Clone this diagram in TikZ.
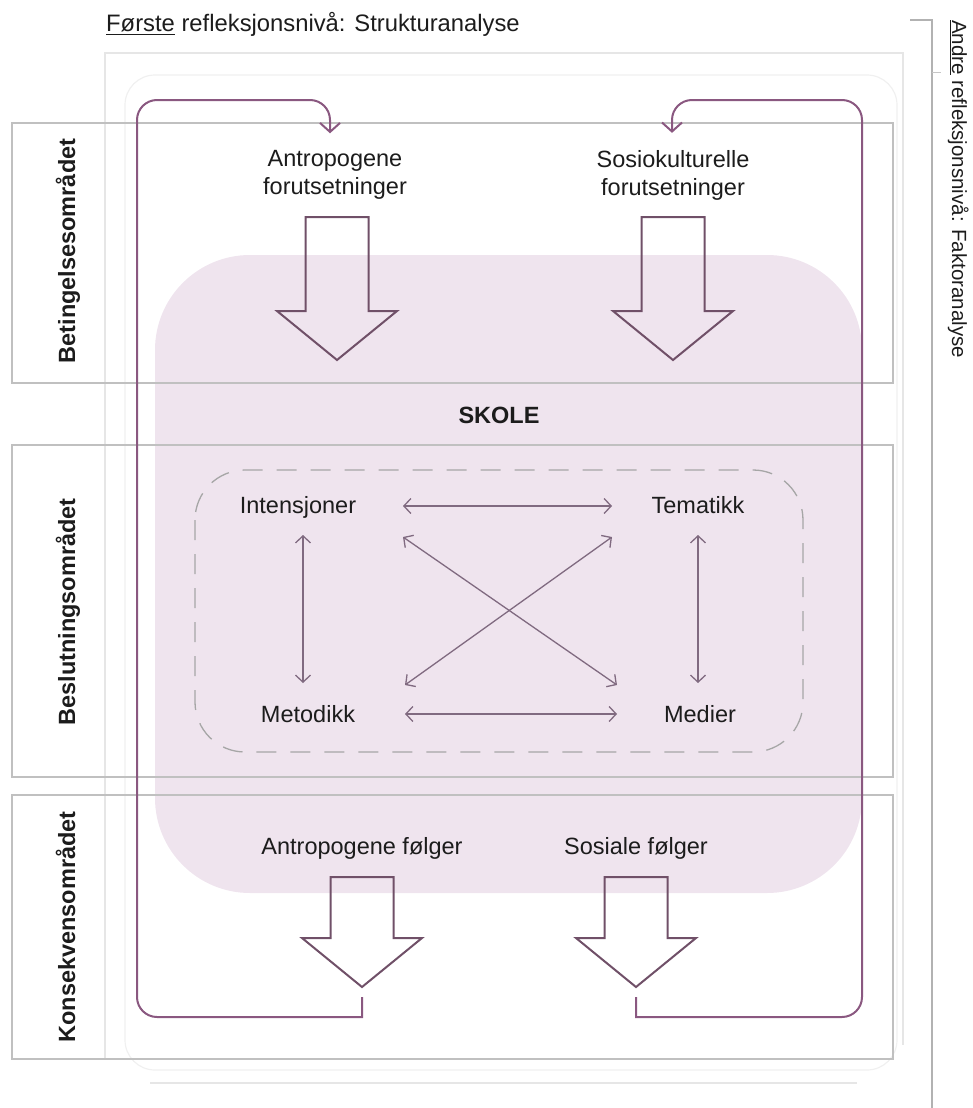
\documentclass[tikz,border=0pt]{standalone}
\usepackage{fontspec}
\setmainfont{Liberation Sans}
\usetikzlibrary{arrows.meta,calc}
\definecolor{pinkbg}{RGB}{239,228,238}
\definecolor{loopc}{RGB}{138,88,128}
\definecolor{blockc}{RGB}{112,80,104}
\definecolor{thinc}{RGB}{128,106,128}
\definecolor{boxc}{RGB}{192,192,192}
\definecolor{faintc}{RGB}{230,230,230}
\definecolor{txt}{RGB}{28,28,28}
\begin{document}
\begin{tikzpicture}[x=1pt,y=-1pt,
  lbl/.style={font=\fontsize{23.5}{28}\selectfont, text=txt, inner sep=0pt},
  blbl/.style={lbl, font=\fontsize{23.5}{28}\selectfont\bfseries},
  secbox/.style={draw=boxc, line width=1.4pt},
  faint/.style={draw=faintc, line width=1.2pt},
  loopline/.style={draw=loopc, line width=2pt, -{Straight Barb[length=9pt,width=20pt]}},
  blockstroke/.style={draw=blockc, line width=2pt, line join=miter},
  thinarrow/.style={draw=thinc, line width=1.3pt, {Straight Barb[length=7pt,width=15pt]}-{Straight Barb[length=7pt,width=15pt]}},
  dashbox/.style={draw=gray!70, line width=1.3pt, dash pattern=on 20pt off 14pt, rounded corners=50pt},
  pics/blockarr/.style 2 args={code={
    \draw[blockstroke] (-31.5,0) -- (31.5,0) -- (31.5,#1) -- (60,#1) -- (0,#2) -- (-60,#1) -- (-31.5,#1) -- cycle;
    \coordinate (-tip) at (0,#2);
  }}
]
\useasboundingbox (0,0) rectangle (973,1108);

% pink school area
\fill[pinkbg, rounded corners=95pt] (155,255) rectangle (862,893);

% faint outer frames
\draw[faint] (105,1059) -- (105,53) -- (903,53) -- (903,1045);
\draw[faint] (150,1083) -- (857,1083);
\draw[draw=faintc!60, line width=1.2pt, rounded corners=30pt] (125,75) rectangle (897,1070);

% section boxes
\draw[secbox] (12,123) rectangle (893,383);
\draw[secbox] (12,445) rectangle (893,777);
\draw[secbox] (12,795) rectangle (893,1059);

% section labels
\node[blbl, rotate=90, anchor=base] (sec1) at (75,251) {Betingelsesområdet};
\node[blbl, rotate=90, anchor=base] (sec2) at (75,612) {Beslutningsområdet};
\node[blbl, rotate=90, anchor=base] (sec3) at (75,927) {Konsekvensområdet};

% title and right label
\node[lbl, font=\fontsize{23.8}{28}\selectfont, anchor=base west] (title) at (106,32) {\underline{Første} refleksjonsnivå: Strukturanalyse};
\draw[draw=gray!60, line width=1.2pt] (910,20) -- (932,20) -- (932,1108);
\draw[draw=gray!45, line width=1pt] (932,73) -- (941,73);
\node[lbl, font=\fontsize{20.5}{25}\selectfont, rotate=-90, anchor=base west] (andre) at (952,20) {\underline{Andre} refleksjonsnivå: Faktoranalyse};

% texts
\node[lbl, align=center] (A1) at (335,175) {Antropogene\\forutsetninger};
\node[lbl, align=center] (S1) at (673,175) {Sosiokulturelle\\forutsetninger};
\node[blbl, anchor=base] (skole) at (499,423) {SKOLE};
\node[lbl, anchor=base] (I) at (298,513) {Intensjoner};
\node[lbl, anchor=base] (T) at (698,513) {Tematikk};
\node[lbl, anchor=base] (M) at (308,722) {Metodikk};
\node[lbl, anchor=base] (Me) at (700,722) {Medier};
\node[lbl, anchor=base] (AF) at (362,854) {Antropogene følger};
\node[lbl, anchor=base] (SF) at (636,854) {Sosiale følger};

% dashed decision area
\draw[dashbox] (195,470) rectangle (803,752);

% thin relation arrows
\draw[thinarrow] ($(I.base)+(105,-7)$) -- ($(T.base)+(-86,-7)$);
\draw[thinarrow] ($(M.base)+(97,-8)$) -- ($(Me.base)+(-83,-8)$);
\draw[thinarrow] ($(I.base)+(5,22)$) -- ($(M.base)+(-5,-39)$);
\draw[thinarrow] ($(T.base)+(0,22)$) -- ($(Me.base)+(-2,-39)$);
\draw[thinarrow] ($(I.base)+(105,24)$) -- ($(Me.base)+(-83,-37)$);
\draw[thinarrow] ($(M.base)+(97,-37)$) -- ($(T.base)+(-86,24)$);

% block arrows
\pic (ba1) at (337,217) {blockarr={94}{143}};
\pic (ba2) at (673,217) {blockarr={94}{143}};
\pic (ba3) at (362,877) {blockarr={61}{110}};
\pic (ba4) at (636,877) {blockarr={61}{110}};

% feedback loops
\coordinate (l1s) at ($(ba3-tip)+(0,10)$);
\coordinate (l1e) at ($(A1.north)+(-5,-17)$);
\coordinate (l2s) at ($(ba4-tip)+(0,10)$);
\coordinate (l2e) at ($(S1.north)+(-1,-17)$);
\draw[loopline] (l1s) -- (l1s |- 0,1017) [rounded corners=20pt] -- (137,1017) -- (137,100) -- (l1e |- 0,100) -- (l1e);
\draw[loopline] (l2s) -- (l2s |- 0,1017) [rounded corners=20pt] -- (862,1017) -- (862,100) -- (l2e |- 0,100) -- (l2e);
\end{tikzpicture}
\end{document}
